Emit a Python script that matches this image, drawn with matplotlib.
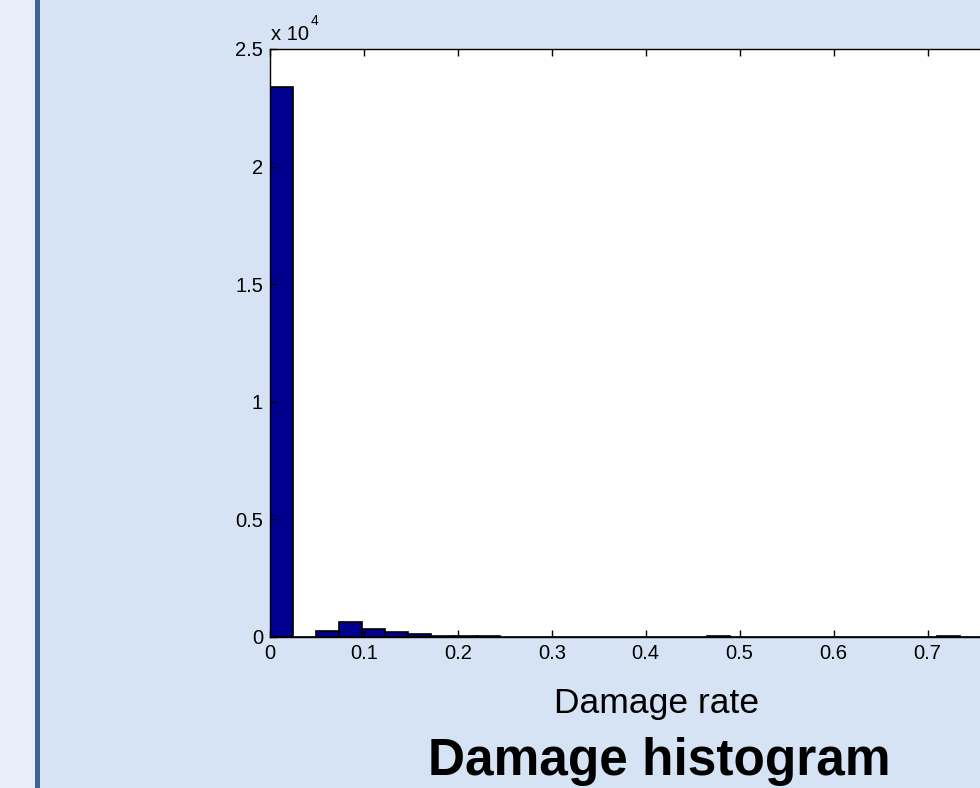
import numpy as np
import matplotlib
matplotlib.use("Agg")
import matplotlib.pyplot as plt
from matplotlib.patches import Rectangle

# histogram data (counts per bin, bins start at 0)
bin_width = 0.0245
counts = [23380, 10, 270, 650, 340, 210, 130, 60,
          30, 25, 20, 20, 15, 15, 12, 10, 10,
          0, 0, 40, 0, 0, 0, 0, 0, 0, 0, 0, 0, 40,
          0, 0, 0, 0]
x_ticks = [0, 0.1, 0.2, 0.3, 0.4, 0.5, 0.6, 0.7]
y_ticks = [0, 5000, 10000, 15000, 20000, 25000]
y_ticklabels = ["0", "0.5", "1", "1.5", "2", "2.5"]

plt.rcParams["font.family"] = ["Liberation Sans", "DejaVu Sans"]

W, H = 980, 788
fig = plt.figure(figsize=(W / 100, H / 100), dpi=100)
fig.patch.set_facecolor("#d5e3f4")

# slide decoration: pale strip and dark blue rule on the left
fig.patches.append(Rectangle((0, 0), 35 / W, 1, transform=fig.transFigure,
                             facecolor="#e7eef7", edgecolor="none", zorder=0))
fig.patches.append(Rectangle((35 / W, 0), 5 / W, 1, transform=fig.transFigure,
                             facecolor="#3e6494", edgecolor="none", zorder=0))

# axes runs past the right edge of the picture (cropped)
left, right, top, bottom = 270, 1044, 49, 637
ax = fig.add_axes([left / W, (H - bottom) / H, (right - left) / W, (bottom - top) / H])
ax.set_facecolor("white")

edges = np.arange(len(counts)) * bin_width
ax.bar(edges, counts, width=bin_width, align="edge",
       color="#00008f", edgecolor="black", linewidth=1.2)

ax.set_xlim(0, 0.824)
ax.set_ylim(0, 25000)
ax.set_xticks(x_ticks)
ax.set_xticklabels([f"{t:g}" for t in x_ticks])
ax.set_yticks(y_ticks)
ax.set_yticklabels(y_ticklabels)
ax.tick_params(direction="in", top=True, right=True, length=5, width=1,
               labelsize=14.5, pad=5)
for s in ax.spines.values():
    s.set_linewidth(1.0)
    s.set_color("black")

ax.set_xlabel("Damage rate", fontsize=25.5)
ax.xaxis.label.set_va("baseline")
ax.xaxis.set_label_coords(0.5, -(713 - bottom) / (bottom - top))

# MATLAB style exponent above the y axis
fig.text(271 / W, 1 - 40 / H, "x 10", fontsize=14.5, ha="left", va="baseline")
fig.text(311 / W, 1 - 25 / H, "4", fontsize=10, ha="left", va="baseline")

fig.text(659 / W, 1 - 775 / H, "Damage histogram", fontsize=37,
         fontweight="bold", ha="center", va="baseline")

fig.savefig("out.png", dpi=100, facecolor=fig.get_facecolor())
